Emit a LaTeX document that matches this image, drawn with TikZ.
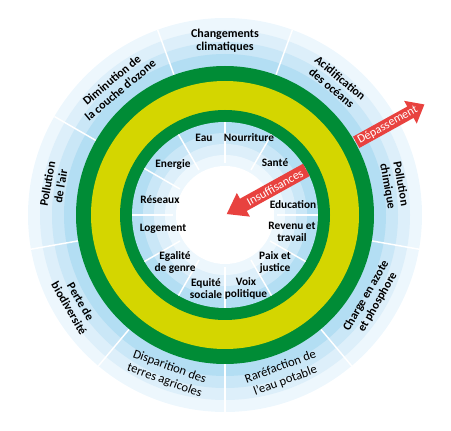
\documentclass[tikz,border=0pt]{standalone}
\usepackage{fontspec}
\setmainfont{Carlito}

\definecolor{ringgreen}{RGB}{0,140,54}
\definecolor{ringyellow}{RGB}{212,214,0}
\definecolor{bandA}{RGB}{179,222,243}
\definecolor{bandB}{RGB}{202,231,247}
\definecolor{bandC}{RGB}{221,239,250}
\definecolor{bandD}{RGB}{237,247,253}
\definecolor{arrowred}{RGB}{232,66,63}

\tikzset{every picture/.style={line width=0.75pt}}
\tikzset{
  sepline/.style={draw=white, line width=1.1pt},
  outerlabel/.style={font=\fontsize{9}{10}\selectfont\bfseries, align=center},
  outerlight/.style={font=\fontsize{9.5}{11}\selectfont, align=center},
  innerlabel/.style={font=\fontsize{8.5}{9}\selectfont\bfseries, align=center},
  arrowlabel/.style={font=\fontsize{9}{9}\selectfont, text=white},
}

\begin{document}
\begin{tikzpicture}[x=0.75pt,y=0.75pt,yscale=-1,xscale=1]
	\useasboundingbox (0,0) rectangle (451,431);

	%Shape: Outer bands
	\fill [bandD] (225,215) circle (197);
	\fill [bandC] (225,215) circle (185);
	\fill [bandB] (225,215) circle (173);
	\fill [bandA] (225,215) circle (161);
	%Outer separators
	\begin{scope}[shift={(225,215)}]
		\foreach \a in {30,70,...,350}
			\draw [sepline] (-\a:149) -- (-\a:197);
	\end{scope}

	%Shape: Rings
	\fill [ringgreen] (225,215) circle (149);
	\fill [ringyellow] (225,215) circle (134);
	\fill [ringgreen] (225,215) circle (105);

	%Shape: Inner bands
	\fill [bandA] (225,215) circle (93);
	\fill [bandB] (225,215) circle (82);
	\fill [bandC] (225,215) circle (71);
	\fill [bandD] (225,215) circle (60);
	\fill [white] (225,215) circle (49);
	%Inner separators
	\begin{scope}[shift={(225,215)}]
		\foreach \a in {0,30,...,330}
			\draw [sepline] (-\a:52) -- (-\a:93);
	\end{scope}

	%Shape: Arrow Depassement
	\begin{scope}[shift={(225,215)}, rotate=-29]
		\fill [arrowred] (150,-6.5) -- (212,-6.5) -- (212,-13) -- (228,0) -- (212,13) -- (212,6.5) -- (150,6.5) -- cycle ;
		\node (depass) at (186,0) [arrowlabel, rotate=29] {Dépassement};
	\end{scope}
	%Shape: Arrow Insuffisances
	\begin{scope}[shift={(225,215)}, rotate=-29]
		\fill [arrowred] (93,-7) -- (21,-7) -- (21,-13.5) -- (2,0) -- (21,13.5) -- (21,7) -- (93,7) -- cycle ;
		\node (insuff) at (57,0) [arrowlabel, rotate=29] {Insuffisances};
	\end{scope}

	% Text Node
	\node (climat) at (225,41) [outerlabel] {Changements\\climatiques};
	% Text Node
	\node (acid) at (336,83) [outerlabel, rotate=-40] {Acidification\\des océans};
	% Text Node
	\node (chimie) at (394,185) [outerlabel, rotate=-80] {Pollution\\chimique};
	% Text Node
	\node (azote) at (372,299) [outerlabel, rotate=60] {Charge en azote\\et phosphore};
	% Text Node
	\node (eaupot) at (283,374) [outerlight, rotate=20] {Raréfaction de\\l'eau potable};
	% Text Node
	\node (terres) at (167,374) [outerlight, rotate=-20] {Disparition des\\terres agricoles};
	% Text Node
	\node (biodiv) at (75,305) [outerlabel, rotate=-60] {Perte de\\biodiversité};
	% Text Node
	\node (air) at (54,185) [outerlabel, rotate=80] {Pollution\\de l'air};
	% Text Node
	\node (ozone) at (116,85) [outerlabel, rotate=40] {Diminution de\\la couche d'ozone};

	% Text Node
	\node (eau) at (204,138) [innerlabel] {Eau};
	% Text Node
	\node (nourr) at (249,138) [innerlabel] {Nourriture};
	% Text Node
	\node (sante) at (275,163) [innerlabel] {Santé};
	% Text Node
	\node (educ) at (293,205) [innerlabel] {Education};
	% Text Node
	\node (revenu) at (292,232) [innerlabel] {Revenu et\\travail};
	% Text Node
	\node (paix) at (275,262) [innerlabel] {Paix et\\justice};
	% Text Node
	\node (voix) at (246,288) [innerlabel] {Voix\\politique};
	% Text Node
	\node (equite) at (206,289) [innerlabel] {Equité\\sociale};
	% Text Node
	\node (genre) at (175,262) [innerlabel] {Egalité\\de genre};
	% Text Node
	\node (logem) at (163,229) [innerlabel] {Logement};
	% Text Node
	\node (reseau) at (160,200) [innerlabel] {Réseaux};
	% Text Node
	\node (energ) at (173,164) [innerlabel] {Energie};

\end{tikzpicture}
\end{document}
